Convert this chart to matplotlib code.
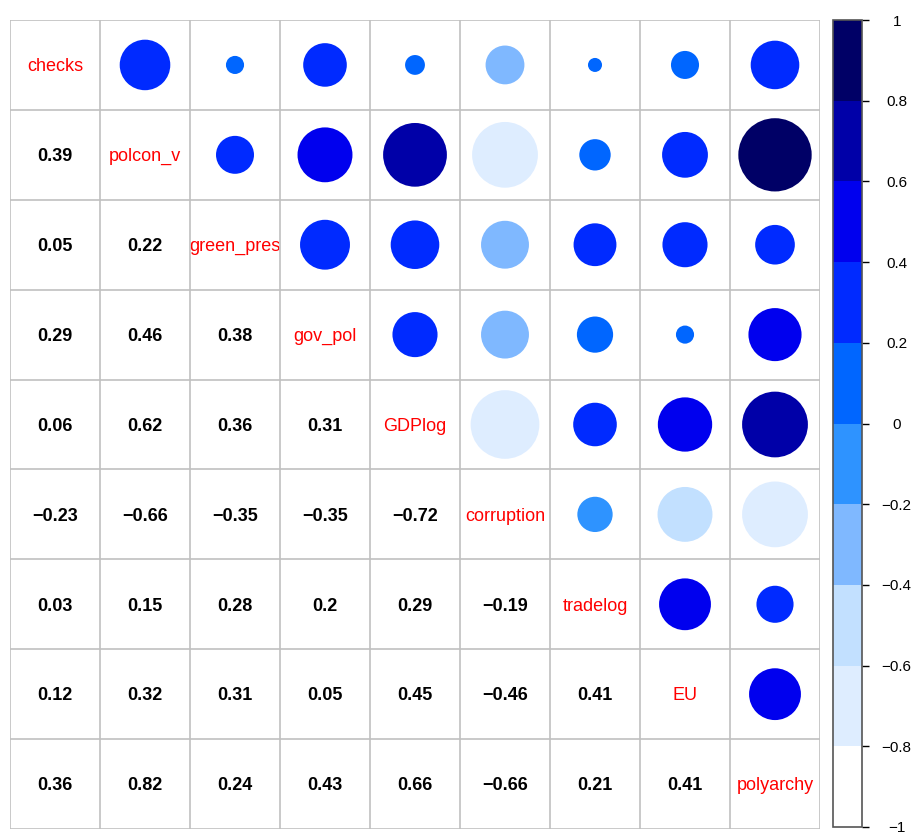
import numpy as np
import matplotlib.pyplot as plt
from matplotlib.colors import ListedColormap, BoundaryNorm
from matplotlib.patches import Circle
from matplotlib.cm import ScalarMappable

plt.rcParams['font.family'] = ['Liberation Sans', 'DejaVu Sans']

names = ["checks", "polcon_v", "green_pres", "gov_pol", "GDPlog",
         "corruption", "tradelog", "EU", "polyarchy"]

# lower triangle of the correlation matrix, row by row
lower = [
    [],
    [0.39],
    [0.05, 0.22],
    [0.29, 0.46, 0.38],
    [0.06, 0.62, 0.36, 0.31],
    [-0.23, -0.66, -0.35, -0.35, -0.72],
    [0.03, 0.15, 0.28, 0.2, 0.29, -0.19],
    [0.12, 0.32, 0.31, 0.05, 0.45, -0.46, 0.41],
    [0.36, 0.82, 0.24, 0.43, 0.66, -0.66, 0.21, 0.41],
]

palette = ["#FFFFFF", "#DEEDFF", "#C2E0FF", "#7FB8FF", "#2E93FF",
           "#0066FF", "#002AFF", "#0000EE", "#0000A8", "#000066"]
cbar_ticks = [1, 0.8, 0.6, 0.4, 0.2, 0, -0.2, -0.4, -0.6, -0.8, -1]

n = len(names)
corr = np.eye(n)
for i, row in enumerate(lower):
    for j, v in enumerate(row):
        corr[i, j] = v
        corr[j, i] = v

cmap = ListedColormap(palette)
norm = BoundaryNorm(np.linspace(-1, 1, 11), cmap.N)

W, H = 912, 833
fig = plt.figure(figsize=(W / 100, H / 100), dpi=100)
ax = fig.add_axes([10 / W, 4 / H, 810 / W, 809 / H])
ax.set_xlim(0, n)
ax.set_ylim(n, 0)
ax.axis('off')

for i in range(n):
    for j in range(n):
        cx, cy = j + 0.5, i + 0.5
        r = corr[i, j]
        if i == j:
            ax.text(cx, cy + 0.02, names[i], color='red', fontsize=13,
                    ha='center', va='center')
        elif j < i:
            lab = f"{r:g}".replace('-', '\u2212')
            ax.text(cx, cy + 0.02, lab, color='black', fontsize=13,
                    fontweight='bold', ha='center', va='center')
        else:
            ax.add_patch(Circle((cx, cy), 0.45 * np.sqrt(abs(r)),
                                color=cmap(norm(r)), lw=0))

# grid
for k in range(n + 1):
    ax.plot([k, k], [0, n], color='#C0C0C0', lw=1.2, zorder=3)
    ax.plot([0, n], [k, k], color='#C0C0C0', lw=1.2, zorder=3)

# colour legend
cax = fig.add_axes([833 / W, (H - 827) / H, 29 / W, 807 / H])
sm = ScalarMappable(norm=norm, cmap=cmap)
cb = fig.colorbar(sm, cax=cax, ticks=cbar_ticks)
cb.outline.set_edgecolor('#555555')
cb.outline.set_linewidth(1.2)
cb.ax.set_yticklabels([f"{t:g}".replace('-', '\u2212') for t in cbar_ticks],
                      fontsize=11, ha='center')
cb.ax.tick_params(length=5, width=1, pad=20)

fig.savefig("out.png", dpi=100)
